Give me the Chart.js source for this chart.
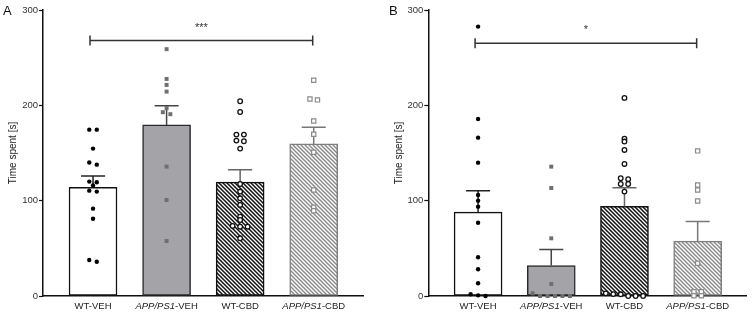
<!DOCTYPE html>
<html lang="en">
<head>
    <meta charset="UTF-8">
    <title>Time spent</title>
    <script src="https://cdn.jsdelivr.net/npm/chart.js"></script>
    <style>
        body {
            margin: 0;
            background: #fff;
        }
        .panel {
            position: absolute;
            top: 0;
            width: 376px;
            height: 313px;
        }
        #panelA { left: 0; }
        #panelB { left: 376px; }
    </style>
</head>
<body>
    <div class="panel" id="panelA"><canvas id="chartA" width="376" height="313"></canvas></div>
    <div class="panel" id="panelB"><canvas id="chartB" width="376" height="313"></canvas></div>

    <script>
        // groups
        const categories = ['WT-VEH', 'APP/PS1-VEH', 'WT-CBD', 'APP/PS1-CBD'];
        const yTicks = [0, 100, 200, 300];

        // panel A: mean and SEM
        const meanA = [114, 179.5, 119.5, 159.5];
        const semA = [12, 20, 13, 17.5];
        // panel A: individual animals
        const aWtVeh = [174.5, 174.5, 154.6, 140, 137.8, 120, 119.3, 116, 110.5, 109.5, 91.6, 81, 37.8, 36];
        const aAppVeh = [258.9, 227.7, 221.4, 214.4, 197, 192.8, 190.7, 135.7, 100.7, 57.7];
        const aWtCbd = [204.3, 193, 169.3, 169.3, 163, 162.3, 154.6, 117.5, 109.5, 102.5, 95.5, 83.2, 79.7, 73.5, 72.7, 72.7, 60.5];
        const aAppCbd = [226.3, 206.7, 205.7, 183.6, 169.7, 150.8, 111.2, 93, 89.5];

        // panel B: mean and SEM
        const meanB = [88, 32, 94, 57.5];
        const semB = [22.5, 16.7, 19.5, 20.7];
        // panel B: individual animals
        const bWtVeh = [282.6, 185.7, 166.1, 139.9, 106, 100, 93.7, 76.9, 40.6, 28, 13.3, 1.8, 0.7, 0];
        const bAppVeh = [135.7, 113.3, 60.5, 12.6, 2.8, 0, 0, 0, 0, 0];
        const bWtCbd = [207.8, 165, 162, 153.2, 138.5, 123.5, 122.5, 117.5, 117.5, 109.5, 2.8, 2, 1.8, 0, 0, 0];
        const bAppCbd = [152.2, 116.5, 111.2, 99.7, 34.3, 4.5, 4.5, 0.3, 0.3];

        // significance bracket WT-VEH vs APP/PS1-CBD
        const sigLabels = ['***', '*'];
        const sigLevels = [268, 265];

        const FONT = "'Liberation Sans', Arial, sans-serif";

        function hatch(color) {
            const c = document.createElement('canvas');
            c.width = 4;
            c.height = 4;
            const g = c.getContext('2d');
            g.fillStyle = '#fff';
            g.fillRect(0, 0, 4, 4);
            g.strokeStyle = color;
            g.lineWidth = 1.5;
            g.beginPath();
            g.moveTo(-1, -1); g.lineTo(5, 5);
            g.moveTo(-1, 3); g.lineTo(1, 5);
            g.moveTo(3, -1); g.lineTo(5, 1);
            g.stroke();
            return g.createPattern(c, 'repeat');
        }

        // spread points with nearly equal values side by side (like GraphPad scatter)
        function swarm(values, group) {
            const sorted = [...values].sort((a, b) => b - a);
            const rows = [];
            sorted.forEach(v => {
                const row = rows[rows.length - 1];
                if (row && row[0] - v < 3) row.push(v);
                else rows.push([v]);
            });
            const pts = [];
            rows.forEach(row => {
                row.forEach((v, k) => {
                    pts.push({ x: group + (k - (row.length - 1) / 2) * 0.102, y: v });
                });
            });
            return pts;
        }

        const errColors = ['#222', '#444', '#666', '#777'];

        const panelPlugin = {
            id: 'panelExtras',
            afterDatasetDraw(chart, args, opts) {
                if (args.index !== 0) return;
                const ctx = chart.ctx;
                const x = chart.scales.x, y = chart.scales.y;
                ctx.save();
                ctx.lineWidth = 1.5;
                opts.mean.forEach((m, i) => {
                    const px = x.getPixelForValue(i);
                    const y0 = y.getPixelForValue(m);
                    const y1 = y.getPixelForValue(m + opts.sem[i]);
                    ctx.strokeStyle = errColors[i];
                    ctx.beginPath();
                    ctx.moveTo(px, y0);
                    ctx.lineTo(px, y1);
                    ctx.moveTo(px - 12, y1);
                    ctx.lineTo(px + 12, y1);
                    ctx.stroke();
                });
                ctx.restore();
            },
            afterDraw(chart, args, opts) {
                const ctx = chart.ctx;
                const x = chart.scales.x, y = chart.scales.y;
                const area = chart.chartArea;
                ctx.save();

                // category labels, APP/PS1 in italics
                ctx.fillStyle = '#222';
                ctx.textBaseline = 'middle';
                categories.forEach((cat, i) => {
                    const parts = cat.startsWith('APP/PS1')
                        ? [['italic ', 'APP/PS1'], ['', cat.slice(7)]]
                        : [['', cat]];
                    let total = 0;
                    parts.forEach(p => {
                        ctx.font = p[0] + '9.5px ' + FONT;
                        total += ctx.measureText(p[1]).width;
                    });
                    let cx = x.getPixelForValue(i) - total / 2;
                    ctx.textAlign = 'left';
                    parts.forEach(p => {
                        ctx.font = p[0] + '9.5px ' + FONT;
                        ctx.fillText(p[1], cx, area.bottom + 10);
                        cx += ctx.measureText(p[1]).width;
                    });
                });

                // significance bracket
                const sy = y.getPixelForValue(opts.sigLevel);
                const x0 = x.getPixelForValue(0) - 3;
                const x3 = x.getPixelForValue(3) - 1;
                ctx.strokeStyle = '#333';
                ctx.lineWidth = 1.5;
                ctx.beginPath();
                ctx.moveTo(x0, sy); ctx.lineTo(x3, sy);
                ctx.moveTo(x0, sy - 5); ctx.lineTo(x0, sy + 5);
                ctx.moveTo(x3, sy - 5); ctx.lineTo(x3, sy + 5);
                ctx.stroke();
                ctx.fillStyle = '#333';
                ctx.textAlign = 'center';
                ctx.textBaseline = 'middle';
                ctx.font = '11px ' + FONT;
                ctx.fillText(opts.sigLabel, (x0 + x3) / 2, sy - 13);

                // panel letter
                ctx.fillStyle = '#111';
                ctx.textAlign = 'left';
                ctx.textBaseline = 'alphabetic';
                ctx.font = '13px ' + FONT;
                ctx.fillText(opts.letter, opts.letterX, 15);
                ctx.restore();
            }
        };

        function makePanel(canvasId, letter, letterX, mean, sem, groups, sigIdx, padLeft, axisW, padRight) {
            const ctx = document.getElementById(canvasId).getContext('2d');
            const pointStyles = [
                { pointStyle: 'circle', radius: 2.2, backgroundColor: '#000', borderColor: '#000', borderWidth: 0 },
                { pointStyle: 'rect', radius: 2.8, backgroundColor: '#6f6f6f', borderColor: '#6f6f6f', borderWidth: 0 },
                { pointStyle: 'circle', radius: 2.3, backgroundColor: '#fff', borderColor: '#111', borderWidth: 1.3 },
                { pointStyle: 'rect', radius: 3.0, backgroundColor: '#fff', borderColor: '#8a8a8a', borderWidth: 1.2 }
            ];
            const datasets = [{
                type: 'bar',
                data: mean.map((m, i) => ({ x: i, y: m })),
                backgroundColor: ['#fff', '#a3a3a8', hatch('#111'), hatch('#8c8c8c')],
                borderColor: ['#111', '#2a2a2a', '#111', '#7f7f7f'],
                borderWidth: 1.5,
                borderSkipped: false,
                barThickness: 48,
                order: 2
            }];
            groups.forEach((vals, i) => {
                datasets.push(Object.assign({
                    type: 'scatter',
                    data: swarm(vals, i),
                    clip: false,
                    order: 0
                }, pointStyles[i]));
            });

            return new Chart(ctx, {
                type: 'bar',
                data: { datasets },
                options: {
                    responsive: false,
                    animation: false,
                    events: [],
                    layout: { padding: { left: padLeft, right: padRight, top: 10, bottom: 0 } },
                    plugins: {
                        legend: { display: false },
                        tooltip: { enabled: false },
                        panelExtras: {
                            mean, sem, letter, letterX,
                            sigLabel: sigLabels[sigIdx],
                            sigLevel: sigLevels[sigIdx]
                        }
                    },
                    scales: {
                        x: {
                            type: 'linear',
                            min: -0.68,
                            max: 3.67,
                            offset: false,
                            ticks: { display: false },
                            grid: { display: true, offset: false, drawOnChartArea: false, drawTicks: false },
                            border: { display: true, color: '#111', width: 1.5 },
                            afterFit: s => { s.height = 17; }
                        },
                        y: {
                            min: 0,
                            max: 300,
                            afterBuildTicks: s => { s.ticks = yTicks.map(v => ({ value: v })); },
                            ticks: {
                                color: '#333',
                                padding: 1,
                                font: { family: FONT, size: 9.5 }
                            },
                            grid: { drawOnChartArea: false, tickLength: 4, tickColor: '#111', tickWidth: 1.2 },
                            border: { display: true, color: '#111', width: 1.5 },
                            title: {
                                display: true,
                                text: 'Time spent [s]',
                                color: '#222',
                                font: { family: FONT, size: 10 },
                                padding: { top: 4, bottom: 0 }
                            },
                            afterFit: s => { s.width = axisW; }
                        }
                    }
                },
                plugins: [panelPlugin]
            });
        }

        makePanel('chartA', 'A', 3, meanA, semA, [aWtVeh, aAppVeh, aWtCbd, aAppCbd], 0, 3, 40, 13);
        makePanel('chartB', 'B', 13, meanB, semB, [bWtVeh, bAppVeh, bWtCbd, bAppCbd], 1, 13, 39.3, 3);
    </script>
</body>
</html>
